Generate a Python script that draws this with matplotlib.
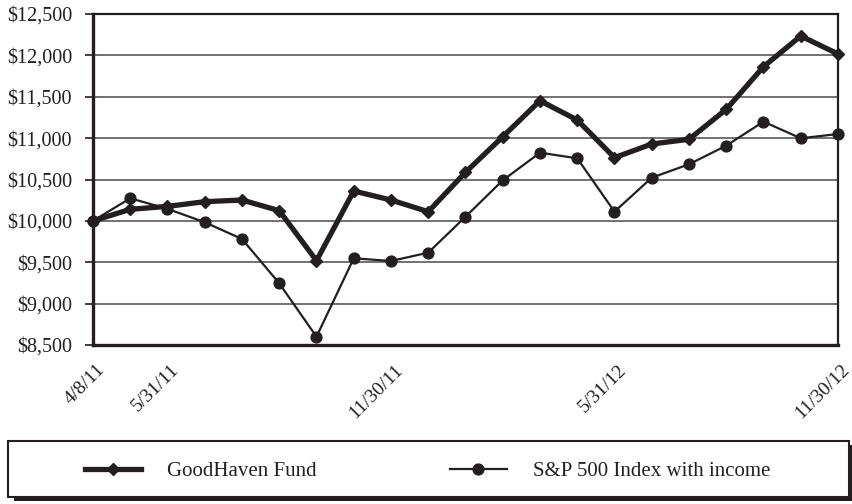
import matplotlib
matplotlib.use("Agg")
import matplotlib.pyplot as plt
from matplotlib.lines import Line2D
from matplotlib.patches import Rectangle
from matplotlib.transforms import ScaledTranslation

dates = ["4/8/11", "4/30/11", "5/31/11", "6/30/11", "7/31/11", "8/31/11", "9/30/11",
         "10/31/11", "11/30/11", "12/31/11", "1/31/12", "2/29/12", "3/31/12", "4/30/12",
         "5/31/12", "6/30/12", "7/31/12", "8/31/12", "9/30/12", "10/31/12", "11/30/12"]
fund = [10000, 10140, 10175, 10232, 10252, 10123, 9519, 10361, 10252, 10111, 10587,
        11017, 11452, 11219, 10764, 10929, 10986, 11348, 11863, 12234, 12017]
spx = [10000, 10273, 10145, 9983, 9781, 9245, 8600, 9548, 9515, 9616, 10050,
       10490, 10824, 10756, 10111, 10522, 10684, 10909, 11199, 10998, 11050]
shown_labels = ["4/8/11", "5/31/11", "11/30/11", "5/31/12", "11/30/12"]
yticks = [8500, 9000, 9500, 10000, 10500, 11000, 11500, 12000, 12500]
series_names = ["GoodHaven Fund", "S&P 500 Index with income"]

INK = "#231f20"
plt.rcParams["font.family"] = ["Liberation Serif", "DejaVu Serif"]

fig = plt.figure(figsize=(8.53, 5.04), dpi=100)
ax = fig.add_axes([93/853, 1-345/504, (838-93)/853, (345-14)/504])

x = list(range(len(dates)))
ax.plot(x, spx, color=INK, lw=1.6, marker="o", ms=7.8, clip_on=False, zorder=3)
ax.plot(x, fund, color=INK, lw=3.8, marker="D", ms=6.5, clip_on=False, zorder=4)

ax.set_xlim(0, len(dates)-1)
ax.set_ylim(yticks[0], yticks[-1])
ax.set_yticks(yticks)
ax.set_yticklabels(["${:,.0f}".format(v) for v in yticks], fontsize=14.5, color=INK)
ax.yaxis.grid(True, color="#4a4a4a", lw=1.1)
ax.set_axisbelow(True)
ax.tick_params(axis="y", length=6, width=1.2, pad=9, color=INK)

idx = [dates.index(d) for d in shown_labels]
ax.set_xticks(idx)
ax.set_xticklabels(shown_labels, rotation=45, ha="right", va="center",
                   rotation_mode="anchor", fontsize=14, color=INK)
ax.tick_params(axis="x", length=0, pad=16)
for lab in ax.get_xticklabels():
    lab.set_transform(lab.get_transform() + ScaledTranslation(9/100, 0, fig.dpi_scale_trans))

for side, w in [("left", 2.4), ("bottom", 2.4), ("top", 1.6), ("right", 1.6)]:
    ax.spines[side].set_linewidth(w)
    ax.spines[side].set_color(INK)

# legend box with shadow
fig.patches.append(Rectangle((14/853, 1-501/504), (853-14)/853, (497-441)/504,
                             transform=fig.transFigure, facecolor=INK, edgecolor="none", zorder=1))
fig.patches.append(Rectangle((8/853, 1-497/504), (849-8)/853, (497-441)/504,
                             transform=fig.transFigure, facecolor="white", edgecolor=INK,
                             lw=1.5, zorder=2))

h1 = Line2D([], [], color=INK, lw=3.8, marker="D", ms=6.5)
h2 = Line2D([], [], color=INK, lw=1.6, marker="o", ms=7.8)
leg = fig.legend([h1, h2], series_names, loc="center left", bbox_to_anchor=(85/853, 1-471/504),
                 ncol=2, frameon=False, fontsize=15, handlelength=2.7, handletextpad=1.25,
                 columnspacing=6.4, borderpad=0, borderaxespad=0)
leg.set_zorder(5)
for t in leg.get_texts():
    t.set_color(INK)

fig.savefig("out.png", dpi=100)
